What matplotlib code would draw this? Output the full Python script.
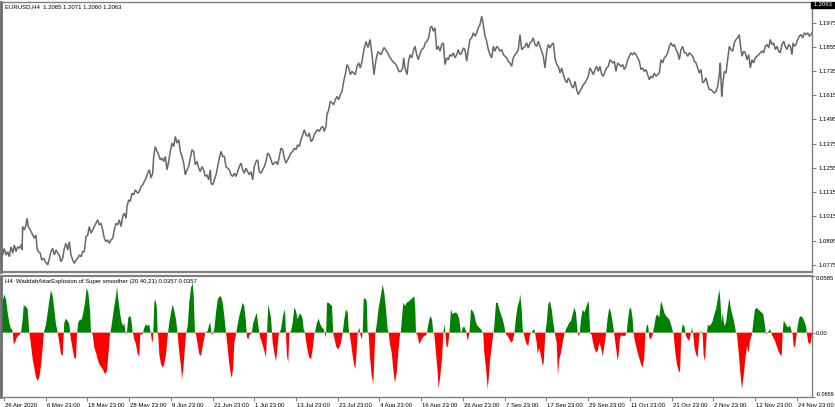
import matplotlib
matplotlib.use('Agg')
import matplotlib.pyplot as plt
import matplotlib.transforms as mtransforms
import numpy as np

plt.rcParams['font.family'] = ['Liberation Sans', 'DejaVu Sans']

# ---------------- data ----------------
symbol_title = "EURUSD,H4  1.2065 1.2071 1.2060 1.2063"
indicator_title = "H4  WaddahAttarExplosion of Super smoother (20,40,21) 0.0357 0.0357"
last_price = 1.2063

price_bar = [
    0.5, 1.7, 3.3, 5.0, 6.7, 8.3, 10.0, 11.7, 13.3, 15.0,
    16.7, 18.3, 20.0, 21.0, 21.7, 23.3, 25.0, 26.0, 27.3, 29.3,
    31.7, 33.3, 35.0, 36.0, 37.3, 39.3, 40.7, 42.7, 44.3, 46.7,
    48.3, 50.0, 51.7, 53.3, 55.0, 56.7, 58.3, 60.0, 61.7, 63.3,
    65.0, 66.7, 68.3, 70.0, 71.7, 73.3, 75.0, 76.7, 78.3, 80.0,
    81.7, 83.3, 85.0, 86.7, 88.3, 90.0, 91.7, 93.3, 95.0, 96.7,
    98.3, 100.0, 101.7, 103.3, 105.0, 106.7, 108.3, 110.0, 111.7, 113.3,
    115.0, 116.7, 118.3, 120.0, 121.7, 123.3, 125.0, 126.0, 127.7, 129.3,
    131.0, 132.7, 134.3, 136.7, 138.3, 140.0, 141.7, 143.3, 145.0, 146.7,
    148.3, 150.0, 151.7, 152.7, 154.3, 156.0, 157.7, 159.3, 161.0, 162.7,
    164.3, 166.0, 167.7, 169.3, 171.0, 172.7, 174.3, 176.0, 177.7, 179.3,
    181.0, 182.7, 184.3, 186.0, 187.7, 189.3, 191.0, 192.7, 194.3, 196.0,
    197.7, 199.3, 201.0, 202.7, 204.3, 206.0, 207.7, 209.3, 210.0, 211.7,
    213.3, 215.0, 216.7, 218.3, 220.0, 221.7, 223.3, 225.0, 226.7, 228.3,
    230.0, 231.7, 233.3, 235.0, 236.7, 238.3, 240.0, 241.7, 243.3, 245.0,
    246.7, 248.3, 250.0, 251.7, 253.3, 255.0, 256.7, 258.3, 260.0, 261.7,
    263.3, 265.0, 266.7, 268.3, 270.0, 271.7, 273.3, 275.0, 276.7, 278.3,
    280.0, 281.7, 283.3, 285.0, 286.7, 288.3, 290.0, 291.7, 293.3, 295.0,
    296.7, 298.3, 300.0, 301.7, 303.3, 305.0, 306.7, 308.3, 310.0, 311.7,
    313.3, 315.0, 316.7, 318.3, 320.0, 321.7, 323.3, 325.0, 326.0, 327.7,
    329.3, 331.0, 332.7, 334.3, 336.0, 337.7, 339.3, 341.0, 342.7, 344.3,
    346.0, 347.7, 349.3, 351.0, 352.7, 354.3, 356.0, 357.7, 359.3, 361.0,
    363.0, 365.0, 367.0, 369.0, 371.0, 373.0, 375.0, 377.0, 380.0, 383.0,
    386.0, 389.0, 392.0, 395.0, 398.0, 400.0, 401.7, 402.7, 404.0, 406.0,
    407.3, 409.0, 410.7, 412.7, 414.0, 415.7, 417.3, 418.7, 420.7, 422.7,
    424.3, 426.0, 427.7, 429.3, 430.7, 432.3, 434.0, 435.7, 437.3, 439.0,
    440.7, 442.3, 444.0, 445.7, 447.3, 449.0, 450.7, 452.3, 454.0, 455.7,
    457.3, 459.0, 460.7, 462.3, 464.0, 465.7, 467.3, 469.0, 470.7, 472.3,
    474.0, 475.7, 477.3, 479.0, 480.7, 482.3, 484.0, 485.7, 487.3, 489.0,
    490.7, 492.3, 494.0, 495.7, 497.3, 499.0, 500.7, 502.3, 504.0, 505.7,
    507.3, 509.0, 510.7, 512.3, 514.0, 515.7, 517.3, 519.0, 520.7, 522.3,
    524.0, 525.7, 527.3, 529.0, 530.7, 532.3, 534.0, 535.7, 537.3, 539.0,
    540.7, 542.3, 544.0, 545.7, 547.3, 549.0, 550.7, 552.3, 554.0, 555.7,
    557.3, 559.0, 560.7, 562.3, 564.0, 565.7, 567.3, 569.0, 570.7, 572.3,
    574.0, 575.7, 577.3, 579.0, 580.7, 582.3, 584.0, 585.7, 587.3, 589.0,
    590.7, 592.3, 594.0, 595.7, 597.3, 599.0, 600.7, 602.3, 604.0, 605.7,
    607.3, 609.0, 611.7, 613.3, 615.0, 616.7, 618.3, 620.0, 621.7, 623.3,
    625.0, 626.7, 628.3, 630.0, 631.7, 633.3, 635.0, 636.7, 638.3, 640.0,
    641.7, 643.3, 645.0, 646.7, 648.3, 650.0, 651.7, 653.3, 655.0, 656.7,
    658.3, 660.0, 661.7, 663.3, 665.0, 666.7, 668.3, 670.0, 671.7, 673.3,
    675.0, 676.7, 678.3, 680.0, 681.7, 683.3, 685.0, 686.7, 688.3, 690.0,
    691.7, 693.3, 695.0, 696.7, 698.3, 700.0, 701.7, 703.3, 705.0, 706.7,
    708.3, 710.0, 711.7, 713.3, 715.0, 716.7, 718.3, 719.3, 720.7, 721.7,
    723.3, 725.0, 726.7, 728.3, 730.0, 731.7, 733.3, 735.0, 736.7, 738.3,
    739.3, 741.0, 742.7, 744.3, 746.0, 747.7, 749.3, 751.0, 752.7, 754.3,
    756.0, 757.7, 759.3, 761.0, 762.7, 764.3, 766.0, 767.7, 769.3, 771.0,
    772.7, 774.3, 776.0, 777.7, 779.3, 781.0, 782.7, 784.3, 786.0, 787.7,
    789.3, 791.0, 792.0, 793.3, 795.0, 796.7, 798.3, 800.0, 801.7, 803.3,
    805.0, 806.7, 808.3, 810.0, 811.7,
]

price_close = [
    1.0840, 1.0824, 1.0857, 1.0824, 1.0841, 1.0816, 1.0865, 1.0833, 1.0874, 1.0841,
    1.0865, 1.0857, 1.0874, 1.0849, 1.0965, 1.0948, 1.0973, 1.1006, 1.0965, 1.0948,
    1.0923, 1.0907, 1.0923, 1.0857, 1.0841, 1.0833, 1.0799, 1.0808, 1.0791, 1.0775,
    1.0808, 1.0841, 1.0857, 1.0824, 1.0849, 1.0833, 1.0824, 1.0791, 1.0808, 1.0857,
    1.0882, 1.0849, 1.0890, 1.0824, 1.0799, 1.0783, 1.0799, 1.0808, 1.0824, 1.0816,
    1.0841, 1.0841, 1.0915, 1.0923, 1.0965, 1.0932, 1.0948, 1.0965, 1.0981, 1.0998,
    1.0973, 1.0981, 1.0948, 1.0907, 1.0890, 1.0899, 1.0882, 1.0899, 1.0907, 1.0948,
    1.0981, 1.0973, 1.0998, 1.0965, 1.1014, 1.1031, 1.1006, 1.1064, 1.1097, 1.1089,
    1.1130, 1.1122, 1.1147, 1.1130, 1.1138, 1.1163, 1.1171, 1.1188, 1.1205, 1.1229,
    1.1246, 1.1205, 1.1229, 1.1312, 1.1361, 1.1337, 1.1320, 1.1295, 1.1304, 1.1287,
    1.1312, 1.1246, 1.1287, 1.1337, 1.1378, 1.1361, 1.1411, 1.1378, 1.1395, 1.1337,
    1.1312, 1.1279, 1.1221, 1.1246, 1.1262, 1.1304, 1.1345, 1.1337, 1.1271, 1.1287,
    1.1254, 1.1237, 1.1262, 1.1246, 1.1213, 1.1221, 1.1196, 1.1246, 1.1180, 1.1171,
    1.1196, 1.1221, 1.1262, 1.1304, 1.1337, 1.1312, 1.1312, 1.1262, 1.1254, 1.1246,
    1.1221, 1.1213, 1.1229, 1.1213, 1.1237, 1.1262, 1.1279, 1.1246, 1.1229, 1.1254,
    1.1237, 1.1221, 1.1237, 1.1196, 1.1262, 1.1287, 1.1295, 1.1237, 1.1229, 1.1246,
    1.1262, 1.1287, 1.1329, 1.1320, 1.1295, 1.1271, 1.1279, 1.1287, 1.1271, 1.1312,
    1.1353, 1.1345, 1.1304, 1.1279, 1.1295, 1.1312, 1.1329, 1.1337, 1.1353, 1.1345,
    1.1370, 1.1361, 1.1395, 1.1419, 1.1444, 1.1419, 1.1411, 1.1428, 1.1386, 1.1395,
    1.1419, 1.1436, 1.1444, 1.1436, 1.1453, 1.1461, 1.1436, 1.1461, 1.1519, 1.1543,
    1.1585, 1.1577, 1.1568, 1.1593, 1.1609, 1.1593, 1.1618, 1.1634, 1.1684, 1.1717,
    1.1767, 1.1750, 1.1717, 1.1733, 1.1725, 1.1717, 1.1758, 1.1775, 1.1750, 1.1783,
    1.1841, 1.1881, 1.1851, 1.1891, 1.1816, 1.1717, 1.1791, 1.1831, 1.1816, 1.1851,
    1.1831, 1.1801, 1.1781, 1.1767, 1.1732, 1.1733, 1.1750, 1.1800, 1.1750, 1.1717,
    1.1775, 1.1816, 1.1800, 1.1841, 1.1857, 1.1816, 1.1791, 1.1816, 1.1841, 1.1849,
    1.1874, 1.1882, 1.1899, 1.1949, 1.1957, 1.1932, 1.1949, 1.1841, 1.1857, 1.1833,
    1.1866, 1.1874, 1.1767, 1.1800, 1.1791, 1.1816, 1.1808, 1.1825, 1.1800, 1.1816,
    1.1841, 1.1816, 1.1825, 1.1849, 1.1841, 1.1783, 1.1841, 1.1891, 1.1899, 1.1924,
    1.1907, 1.1924, 1.1949, 1.1965, 1.2006, 1.1965, 1.1907, 1.1882, 1.1841, 1.1816,
    1.1800, 1.1857, 1.1833, 1.1857, 1.1849, 1.1833, 1.1841, 1.1816, 1.1808, 1.1800,
    1.1783, 1.1775, 1.1758, 1.1800, 1.1816, 1.1825, 1.1841, 1.1915, 1.1841, 1.1849,
    1.1857, 1.1874, 1.1849, 1.1874, 1.1882, 1.1899, 1.1866, 1.1857, 1.1882, 1.1857,
    1.1833, 1.1808, 1.1750, 1.1833, 1.1866, 1.1849, 1.1866, 1.1874, 1.1800, 1.1767,
    1.1758, 1.1725, 1.1750, 1.1717, 1.1692, 1.1676, 1.1701, 1.1684, 1.1659, 1.1651,
    1.1684, 1.1643, 1.1618, 1.1634, 1.1651, 1.1667, 1.1676, 1.1692, 1.1709, 1.1750,
    1.1733, 1.1717, 1.1742, 1.1758, 1.1733, 1.1758, 1.1717, 1.1709, 1.1733, 1.1750,
    1.1758, 1.1791, 1.1775, 1.1783, 1.1733, 1.1775, 1.1767, 1.1758, 1.1767, 1.1742,
    1.1758, 1.1791, 1.1808, 1.1825, 1.1816, 1.1825, 1.1816, 1.1800, 1.1783, 1.1742,
    1.1750, 1.1733, 1.1742, 1.1717, 1.1692, 1.1709, 1.1701, 1.1725, 1.1709, 1.1717,
    1.1725, 1.1791, 1.1775, 1.1800, 1.1808, 1.1825, 1.1857, 1.1874, 1.1857, 1.1866,
    1.1841, 1.1825, 1.1791, 1.1841, 1.1857, 1.1825, 1.1825, 1.1808, 1.1825, 1.1816,
    1.1808, 1.1783, 1.1775, 1.1750, 1.1725, 1.1742, 1.1676, 1.1684, 1.1701, 1.1667,
    1.1643, 1.1643, 1.1634, 1.1626, 1.1634, 1.1659, 1.1717, 1.1775, 1.1609, 1.1667,
    1.1733, 1.1725, 1.1791, 1.1857, 1.1841, 1.1833, 1.1874, 1.1891, 1.1899, 1.1915,
    1.1866, 1.1808, 1.1833, 1.1825, 1.1791, 1.1816, 1.1750, 1.1791, 1.1775, 1.1800,
    1.1808, 1.1816, 1.1825, 1.1833, 1.1825, 1.1857, 1.1866, 1.1849, 1.1891, 1.1866,
    1.1874, 1.1841, 1.1857, 1.1833, 1.1825, 1.1866, 1.1882, 1.1857, 1.1841, 1.1866,
    1.1857, 1.1816, 1.1874, 1.1857, 1.1866, 1.1891, 1.1907, 1.1915, 1.1899, 1.1924,
    1.1915, 1.1924, 1.1907, 1.1915, 1.1932,
]

wae_bar = [
    0.0, 1.7, 3.3, 5.0, 6.7, 8.3, 10.0, 11.0, 12.0, 12.7,
    14.0, 15.7, 17.3, 19.0, 20.0, 21.7, 22.7, 25.0, 26.7, 28.3,
    29.3, 31.7, 33.3, 35.0, 36.7, 38.3, 40.0, 41.7, 42.7, 43.3,
    45.0, 46.7, 48.3, 50.0, 51.7, 53.3, 55.0, 56.7, 58.3, 60.0,
    61.7, 62.7, 63.3, 65.0, 66.7, 68.3, 69.3, 70.0, 71.7, 73.3,
    75.0, 76.0, 77.3, 79.0, 80.7, 82.3, 84.0, 85.7, 87.3, 89.0,
    90.0, 91.7, 93.3, 95.0, 96.7, 98.3, 101.7, 104.0, 106.0, 107.3,
    109.0, 110.0, 111.7, 113.3, 115.0, 116.0, 117.3, 119.0, 120.7, 122.3,
    123.3, 124.3, 125.0, 126.0, 127.3, 128.7, 130.0, 131.7, 132.3, 133.3,
    135.0, 136.7, 138.3, 139.3, 141.7, 143.3, 145.0, 146.7, 148.3, 149.0,
    150.0, 151.0, 151.7, 152.3, 153.3, 154.3, 155.7, 156.7, 157.3, 158.3,
    160.0, 161.7, 163.3, 165.0, 166.7, 168.3, 170.0, 171.7, 173.3, 175.0,
    176.7, 178.3, 180.0, 181.0, 182.3, 183.3, 185.0, 186.7, 188.3, 190.0,
    191.7, 192.7, 194.0, 195.0, 196.7, 198.3, 200.0, 201.7, 203.3, 204.3,
    206.7, 208.3, 209.3, 210.7, 211.7, 213.3, 215.0, 216.7, 218.3, 220.0,
    221.7, 223.3, 225.0, 226.7, 228.3, 230.0, 231.0, 232.3, 233.3, 235.0,
    236.7, 238.3, 240.0, 241.7, 243.3, 245.0, 246.0, 247.3, 248.3, 249.3,
    250.7, 252.3, 254.0, 255.7, 256.7, 258.3, 259.3, 261.0, 263.3, 265.0,
    266.0, 267.3, 268.7, 270.0, 271.7, 273.3, 275.0, 276.7, 277.7, 280.0,
    282.3, 284.0, 285.0, 286.0, 287.3, 288.3, 290.0, 291.7, 293.3, 295.0,
    296.7, 298.3, 300.0, 301.7, 302.7, 304.0, 305.3, 306.7, 308.3, 310.0,
    311.7, 313.3, 314.3, 316.0, 317.7, 319.3, 321.0, 322.7, 324.0, 325.0,
    326.0, 327.7, 329.3, 331.0, 332.3, 333.3, 335.0, 336.7, 338.3, 340.0,
    341.7, 343.3, 345.0, 346.7, 347.7, 348.7, 350.0, 351.7, 353.3, 354.3,
    355.3, 356.7, 357.7, 358.3, 359.3, 360.7, 361.7, 362.7, 364.0, 365.7,
    366.7, 367.7, 369.0, 370.7, 372.3, 373.3, 374.3, 376.0, 377.7, 380.0,
    381.7, 383.3, 385.0, 386.7, 387.7, 389.0, 390.7, 392.3, 394.0, 395.7,
    397.3, 399.0, 400.0, 401.0, 402.3, 404.0, 405.7,
    408.3, 410.0, 411.7, 413.3, 414.3, 415.0, 416.7, 418.3, 420.0, 421.7,
    423.3, 425.0, 426.0, 427.7, 429.3, 431.0, 432.3, 433.3, 435.0, 436.7,
    437.7, 439.3, 441.0, 442.3, 443.3, 444.3, 445.7, 447.0, 448.3, 450.0,
    451.7, 453.3, 455.0, 456.7, 458.3, 460.0, 461.7, 463.3, 465.0, 466.7,
    468.3, 470.0, 471.7, 473.3, 475.0, 476.7, 478.3, 480.0, 481.7, 482.3,
    483.3, 485.0, 486.7, 487.7, 489.0, 491.0, 492.3, 493.3, 495.0, 496.7,
    498.3, 500.0, 501.7, 503.3, 504.3, 505.0, 506.7, 508.3, 510.0, 511.7,
    513.3, 515.0, 516.7, 518.3, 519.3, 520.7, 521.7, 522.7, 524.0, 525.7,
    527.3, 529.0, 530.7, 531.7, 533.3, 534.3, 535.7, 536.7, 538.3, 540.0,
    541.7, 542.7, 544.3, 545.7, 547.3, 549.0, 550.7, 552.3, 554.0, 555.7,
    557.0, 558.3, 560.0, 561.7, 563.3, 565.0, 566.7, 568.3, 570.0, 571.7,
    573.3, 575.0, 576.7, 577.7, 578.7, 580.0, 581.7, 583.3, 585.0, 586.7,
    587.7, 589.3, 590.7, 591.7, 593.3, 595.0, 596.7, 598.3, 600.0, 601.7,
    603.3, 605.0, 606.7, 608.3, 610.0, 611.7, 613.3, 615.0, 616.7, 617.7,
    619.0, 620.7, 622.3, 624.0, 625.7, 626.7, 628.3, 630.0, 631.7, 632.7,
    634.3, 636.7, 640.0, 641.7, 643.3, 644.3, 645.7, 647.0, 648.3, 650.0,
    651.7, 653.3, 655.0, 656.7, 658.3, 660.0, 661.7, 663.3, 665.0, 666.7,
    668.3, 670.0, 671.7, 672.7, 674.3, 676.0, 677.7, 679.0, 680.3, 681.7,
    683.3, 685.0, 686.7, 688.3, 690.0, 691.0, 692.3, 693.3, 695.0, 696.7,
    698.3, 700.0, 701.7, 702.7, 704.0, 705.7, 707.0, 708.3, 710.0, 711.7,
    713.3, 715.0, 716.7, 718.3, 719.3, 720.7, 721.7, 723.3, 725.0, 726.7,
    728.3, 730.0, 731.7, 733.3, 735.0, 736.0, 737.7, 739.3, 741.0, 742.7,
    744.3, 746.0, 747.7, 749.0, 751.0, 752.3, 754.0, 755.7, 757.3, 759.0,
    760.7, 762.3, 764.0, 765.0, 766.0, 767.7, 769.3, 770.7, 772.3, 774.0,
    775.7, 777.3, 779.0, 780.7, 781.7, 782.7, 784.0, 785.7, 787.3, 789.0,
    790.0, 791.7, 792.7, 794.0, 795.7, 796.7, 798.3, 800.0, 801.7, 803.3,
    805.0, 806.0, 807.3, 809.0, 810.0, 811.0,
]

wae_value = [
    0.0238, 0.0323, 0.0391, 0.0340, 0.0204, 0.0102, 0.0034, 0.0041, -0.0017, -0.0119,
    -0.0102, -0.0051, -0.0034, -0.0017, 0.0, 0.0136, 0.0279, 0.0265, 0.0238, -0.0007,
    -0.0068, -0.0272, -0.0357, -0.0459, -0.0493, -0.0459, -0.0340, -0.0153, -0.0017, 0.0017,
    0.0085, 0.0204, 0.0323, 0.0435, 0.0374, 0.0238, 0.0085, 0.0, -0.0102, -0.0221,
    -0.0238, -0.0017, 0.0102, 0.0143, 0.0119, 0.0085, -0.0017, -0.0068, -0.0170, -0.0255,
    -0.0272, -0.0017, 0.0102, 0.0136, 0.0129, 0.0204, 0.0306, 0.0459, 0.0408, 0.0238,
    0.0, -0.0017, -0.0153, -0.0204, -0.0272, -0.0323, -0.0374, -0.0425, -0.0391, -0.0238,
    -0.0017, 0.0034, 0.0153, 0.0272, 0.0374, 0.0476, 0.0340, 0.0204, 0.0102, 0.0068,
    0.0102, 0.0017, -0.0027, 0.0007, 0.0153, 0.0170, 0.0153, 0.0, -0.0017, -0.0068,
    -0.0119, -0.0221, -0.0238, -0.0017, -0.0017, 0.0051, 0.0085, 0.0068, 0.0085, 0.0034,
    -0.0017, -0.0085, -0.0102, 0.0, 0.0306, 0.0340, 0.0272, 0.0, -0.0034, -0.0221,
    -0.0323, -0.0357, -0.0323, -0.0221, -0.0034, 0.0102, 0.0204, 0.0289, 0.0221, 0.0136,
    -0.0017, -0.0204, -0.0340, -0.0476, -0.0374, -0.0238, -0.0017, 0.0068, 0.0306, 0.0459,
    0.0510, 0.0374, 0.0, -0.0017, -0.0119, -0.0221, -0.0238, -0.0136, -0.0051, 0.0,
    0.0017, 0.0085, 0.0102, -0.0017, -0.0017, 0.0034, 0.0204, 0.0340, 0.0367, 0.0374,
    0.0306, 0.0170, 0.0, -0.0153, -0.0323, -0.0442, -0.0459, -0.0340, -0.0102, -0.0017,
    0.0085, 0.0170, 0.0238, 0.0306, 0.0272, 0.0102, -0.0051, -0.0068, -0.0027, -0.0017,
    -0.0007, 0.0102, 0.0153, 0.0204, 0.0119, 0.0, -0.0051, -0.0102, -0.0187, -0.0255,
    -0.0017, 0.0289, 0.0221, 0.0153, -0.0102, -0.0204, -0.0299, -0.0136, -0.0017, 0.0034,
    0.0187, 0.0238, -0.0017, -0.0238, -0.0306, -0.0017, 0.0017, 0.0102, 0.0255, 0.0221,
    0.0136, 0.0187, 0.0187, 0.0136, 0.0034, 0.0, -0.0102, -0.0187, -0.0255, -0.0272,
    -0.0170, -0.0017, 0.0017, 0.0102, 0.0143, 0.0085, 0.0051, 0.0034, -0.0017, -0.0051,
    0.0306, 0.0306, 0.0289, 0.0272, -0.0017, -0.0051, -0.0136, -0.0170, -0.0153, -0.0102,
    0.0, 0.0136, 0.0238, 0.0204, 0.0034, -0.0017, -0.0102, -0.0238, -0.0340, -0.0374,
    -0.0238, -0.0017, 0.0034, 0.0051, -0.0017, -0.0068, 0.0, 0.0340, 0.0357, 0.0323,
    0.0, -0.0017, -0.0255, -0.0442, -0.0527, -0.0272, -0.0017, 0.0102, 0.0255, 0.0391,
    0.0493, 0.0408, 0.0238, 0.0034, 0.0, -0.0119, -0.0204, -0.0374, -0.0517, -0.0408,
    -0.0204, -0.0017, 0.0017, 0.0153, 0.0306, 0.0272, 0.0306,
    0.0323, 0.0340, 0.0357, 0.0374, 0.0238, 0.0, -0.0034, -0.0119, -0.0085, -0.0051,
    -0.0034, -0.0027, 0.0, 0.0102, 0.0170, 0.0136, 0.0, -0.0017, -0.0204, -0.0408,
    -0.0578, -0.0442, -0.0272, -0.0017, 0.0085, 0.0, -0.0153, -0.0136, -0.0017, 0.0238,
    0.0187, 0.0204, 0.0204, 0.0187, 0.0136, -0.0017, 0.0051, 0.0061, 0.0017, -0.0085,
    -0.0017, 0.0238, 0.0221, 0.0187, 0.0102, 0.0068, 0.0051, 0.0034, 0.0, -0.0017,
    -0.0204, -0.0357, -0.0578, -0.0476, -0.0289, -0.0119, -0.0017, 0.0068, 0.0306, 0.0306,
    0.0238, 0.0187, 0.0136, 0.0068, 0.0, -0.0017, -0.0034, -0.0068, -0.0102, -0.0085,
    -0.0017, 0.0153, 0.0272, 0.0323, 0.0391, 0.0238, 0.0034, -0.0007, -0.0068, -0.0119,
    -0.0136, -0.0017, 0.0, 0.0024, 0.0034, -0.0017, -0.0102, -0.0221, -0.0153, -0.0238,
    -0.0340, -0.0306, -0.0017, 0.0102, 0.0289, 0.0323, 0.0238, 0.0102, -0.0017, -0.0102,
    -0.0442, -0.0272, -0.0204, -0.0102, -0.0017, 0.0034, 0.0068, 0.0102, 0.0119, 0.0187,
    0.0255, 0.0204, 0.0, -0.0034, -0.0017, 0.0136, 0.0238, 0.0204, 0.0255, 0.0306,
    0.0323, -0.0017, -0.0017, -0.0085, -0.0153, -0.0204, -0.0187, -0.0102, -0.0153, -0.0238,
    -0.0136, -0.0017, 0.0153, 0.0255, 0.0204, 0.0102, -0.0017, -0.0153, -0.0289, -0.0221,
    -0.0051, -0.0027, -0.0034, -0.0034, 0.0, 0.0102, 0.0238, 0.0255, 0.0136, -0.0017,
    -0.0102, -0.0204, -0.0323, -0.0357, -0.0255, -0.0017, 0.0068, 0.0085, -0.0051, -0.0068,
    -0.0017, 0.0068, 0.0170, 0.0187, 0.0153, 0.0323, 0.0272, 0.0204, 0.0170, 0.0153,
    0.0136, 0.0085, 0.0017, -0.0017, -0.0204, -0.0323, -0.0391, -0.0408, -0.0017, 0.0085,
    0.0068, -0.0034, -0.0068, -0.0085, 0.0, 0.0051, -0.0017, -0.0136, -0.0221, -0.0255,
    -0.0017, 0.0017, -0.0017, -0.0238, -0.0289, -0.0017, 0.0085, 0.0068, 0.0085, 0.0119,
    0.0187, 0.0238, 0.0340, 0.0442, 0.0340, 0.0102, 0.0204, 0.0068, 0.0102, 0.0238,
    0.0357, 0.0238, 0.0170, 0.0102, 0.0, -0.0017, -0.0204, -0.0408, -0.0578, -0.0442,
    -0.0272, -0.0136, -0.0204, -0.0085, -0.0017, 0.0102, 0.0238, 0.0255, 0.0238, 0.0221,
    0.0204, 0.0187, 0.0068, -0.0017, -0.0007, 0.0017, 0.0034, -0.0017, -0.0051, -0.0085,
    -0.0136, -0.0187, -0.0221, -0.0238, 0.0, 0.0119, 0.0102, 0.0068, 0.0051, 0.0075,
    0.0034, -0.0017, -0.0136, -0.0153, -0.0017, 0.0068, 0.0153, 0.0170, 0.0153, 0.0119,
    0.0068, -0.0017, -0.0102, -0.0119, -0.0085, -0.0017,
]

price_ticks = [1.0775, 1.0895, 1.1015, 1.1135, 1.1255, 1.1375, 1.1495,
               1.1615, 1.1735, 1.1855, 1.1975]
wae_ticks = [-0.0659, 0.0, 0.0585]
wae_tick_labels = ["-0.0659", "0.00", "0.0585"]

date_tick_bar = [3, 45, 86, 128, 170, 212, 253, 295, 337, 378,
                 420, 462, 504, 545, 587, 629, 671, 712, 754, 796]
date_tick_labels = ["26 Apr 2020", "6 May 23:00", "18 May 23:00", "28 May 23:00",
                    "9 Jun 23:00", "21 Jun 23:00", "1 Jul 23:00", "13 Jul 23:00",
                    "23 Jul 23:00", "4 Aug 23:00", "16 Aug 23:00", "26 Aug 23:00",
                    "7 Sep 23:00", "17 Sep 23:00", "29 Sep 23:00", "11 Oct 23:00",
                    "21 Oct 23:00", "2 Nov 23:00", "12 Nov 23:00", "24 Nov 23:00"]

# ---------------- figure ----------------
W, H = 835, 407
fig = plt.figure(figsize=(W / 100, H / 100), dpi=100)
fig.patch.set_facecolor('white')


def rect(x0, y0, x1, y1):
    return [x0 / W, 1 - y1 / H, (x1 - x0) / W, (y1 - y0) / H]


ax = fig.add_axes(rect(1, 1.5, 812, 272))
ax2 = fig.add_axes(rect(1, 275.5, 812, 397))

FS = 4.3
GRID = '#808080'
for a in (ax, ax2):
    a.set_facecolor('white')
    a.set_xlim(0, 811)
    for s in a.spines.values():
        s.set_color(GRID)
        s.set_linewidth(1.0)
    a.spines['left'].set_color('#6a6a6a')
    a.spines['left'].set_linewidth(2.0)
ax.spines['bottom'].set_linewidth(1.6)
ax2.spines['top'].set_linewidth(1.6)

# price panel
ax.plot(price_bar, price_close, color='#686868', lw=1.1, solid_joinstyle='miter')
ax.set_ylim(1.0740, 1.2079)
ax.set_xticks([])
ax.yaxis.tick_right()
ax.set_yticks(price_ticks)
ax.set_yticklabels([f"{v:.4f}" for v in price_ticks])
ax.tick_params(axis='y', direction='out', length=3, width=0.8, color=GRID,
               labelsize=FS, pad=1.5, labelcolor='black')

trans = mtransforms.blended_transform_factory(ax.transAxes, ax.transData)
ax.text(1.0, last_price, " 1.2063 ", transform=trans, ha='left', va='center',
        fontsize=FS, color='white',
        bbox=dict(boxstyle='square,pad=0.12', fc='black', ec='black'))

ax.annotate(symbol_title, xy=(0, 1), xycoords='axes fraction', xytext=(4, -3),
            textcoords='offset pixels', ha='left', va='top', fontsize=FS, color='black')

# indicator panel
x = np.array(wae_bar)
v = np.array(wae_value)
ax2.fill_between(x, 0, v, where=v >= 0, interpolate=True, color='#008000', lw=0)
ax2.fill_between(x, 0, v, where=v <= 0, interpolate=True, color='#ff0000', lw=0)
ax2.set_ylim(-0.0659, 0.0585)
ax2.yaxis.tick_right()
ax2.set_yticks(wae_ticks)
ax2.set_yticklabels(wae_tick_labels)
ax2.tick_params(axis='y', direction='out', length=2, width=0.8, color=GRID,
                labelsize=FS, pad=1.0, labelcolor='black')
ylabs = ax2.get_yticklabels()
ylabs[0].set_va('bottom')
ylabs[0].set_fontsize(4.0)
ylabs[2].set_va('top')

ax2.set_xticks(date_tick_bar)
ax2.set_xticklabels(date_tick_labels)
ax2.tick_params(axis='x', direction='out', length=3, width=0.8, color=GRID,
                labelsize=FS, pad=1.0, labelcolor='black')
offset = mtransforms.ScaledTranslation(1.0 / 100, 0, fig.dpi_scale_trans)
for lab in ax2.get_xticklabels():
    lab.set_ha('left')
    lab.set_transform(lab.get_transform() + offset)

ax2.annotate(indicator_title, xy=(0, 1), xycoords='axes fraction', xytext=(4, -3),
             textcoords='offset pixels', ha='left', va='top', fontsize=FS, color='black')

fig.savefig('out.png', dpi=100, facecolor='white')
